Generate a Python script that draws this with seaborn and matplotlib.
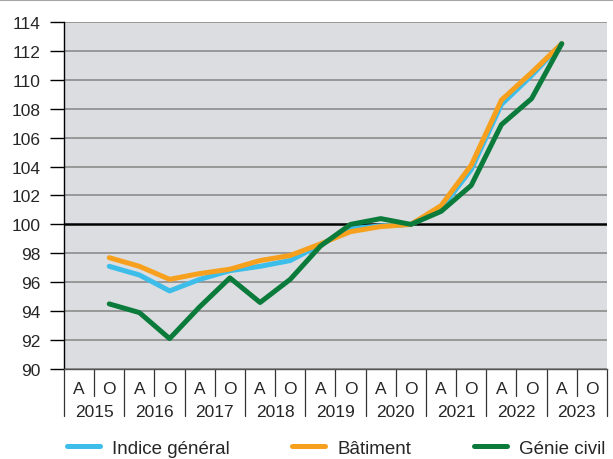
import numpy as np
import pandas as pd
import seaborn as sns
import matplotlib.pyplot as plt
from matplotlib.lines import Line2D
import matplotlib.transforms as mtransforms

# données (indices, base 100) - relevés avril / octobre
annees = ['2015', '2016', '2017', '2018', '2019', '2020', '2021', '2022', '2023']
semestres = ['A', 'O']
series = ['Indice général', 'Bâtiment', 'Génie civil']
couleurs = ['#3cbdea', '#f6a01e', '#0b7b3c']

# de 2015 O a 2023 A
indice_general = [97.1, 96.5, 95.4, 96.2, 96.8, 97.1, 97.5, 98.6, 99.7, 99.9,
                  100.0, 101.1, 103.8, 108.3, 110.3, 112.5]
batiment = [97.7, 97.1, 96.2, 96.6, 96.9, 97.5, 97.85, 98.65, 99.5, 99.85,
            100.0, 101.3, 104.1, 108.6, 110.5, 112.5]
genie_civil = [94.5, 93.9, 92.1, 94.3, 96.3, 94.6, 96.2, 98.5, 100.0, 100.4,
               100.0, 100.9, 102.7, 106.9, 108.7, 112.5]

n_slots = len(annees) * len(semestres)
pos = np.arange(1, 1 + len(indice_general))

df = pd.DataFrame({'pos': np.tile(pos, 3),
                   'valeur': indice_general + batiment + genie_civil,
                   'serie': np.repeat(series, len(pos))})

sns.set_style('white')
plt.rcParams['font.family'] = ['Liberation Sans', 'DejaVu Sans']

fig, ax = plt.subplots(figsize=(6.13, 4.6), dpi=100)
fig.subplots_adjust(left=0.1044, right=0.9902, top=0.95, bottom=0.1957)
ax.set_facecolor('#dcdde0')

for y in range(90, 115, 2):
    if y != 100:
        ax.axhline(y, color='#8c8c8c', lw=1.2, zorder=1)
ax.axhline(100, color='black', lw=1.8, zorder=1.5)

sns.lineplot(data=df, x='pos', y='valeur', hue='serie', hue_order=series,
             palette=couleurs, linewidth=3.6, ax=ax, zorder=3)

ax.set_xlim(-0.5, n_slots - 0.5)
ax.set_ylim(90, 114)
ax.set_yticks(range(90, 115, 2))
ax.set_xticks([])
ax.set_xlabel('')
ax.set_ylabel('')
ax.tick_params(axis='y', length=10, width=1, color='black', pad=7,
               labelsize=12.5, left=True)
for s in ['top', 'right']:
    ax.spines[s].set_visible(False)
ax.spines['left'].set_color('black')
ax.spines['left'].set_linewidth(1)
ax.spines['bottom'].set_color('#555555')
ax.spines['bottom'].set_linewidth(1)

# axe x : A / O et années, avec séparateurs
trans = mtransforms.blended_transform_factory(ax.transData, ax.transAxes)
for i, an in enumerate(annees):
    for j, s in enumerate(semestres):
        ax.text(2 * i + j, -0.055, s, transform=trans, ha='center', va='center',
                fontsize=12.5)
    ax.text(2 * i + 0.5, -0.123, an, transform=trans, ha='center', va='center',
            fontsize=12.5)
    ax.plot([2 * i + 0.5] * 2, [0, -0.078], transform=trans, color='#333333',
            lw=0.9, clip_on=False)
for i in range(len(annees) + 1):
    ax.plot([2 * i - 0.5] * 2, [0, -0.135], transform=trans, color='#333333',
            lw=0.9, clip_on=False)

sns.move_legend(ax, 'center left', bbox_to_anchor=(0.005, -0.228), ncol=3,
                frameon=False, title=None, fontsize=13.5, handlelength=1.75,
                handletextpad=0.65, columnspacing=3.35, borderaxespad=0,
                borderpad=0)

# trait gris en haut de la figure
fig.add_artist(Line2D([0, 1], [0.997, 0.997], color='#a6a6a6', lw=1.5))

fig.savefig('out.png', dpi=100)
